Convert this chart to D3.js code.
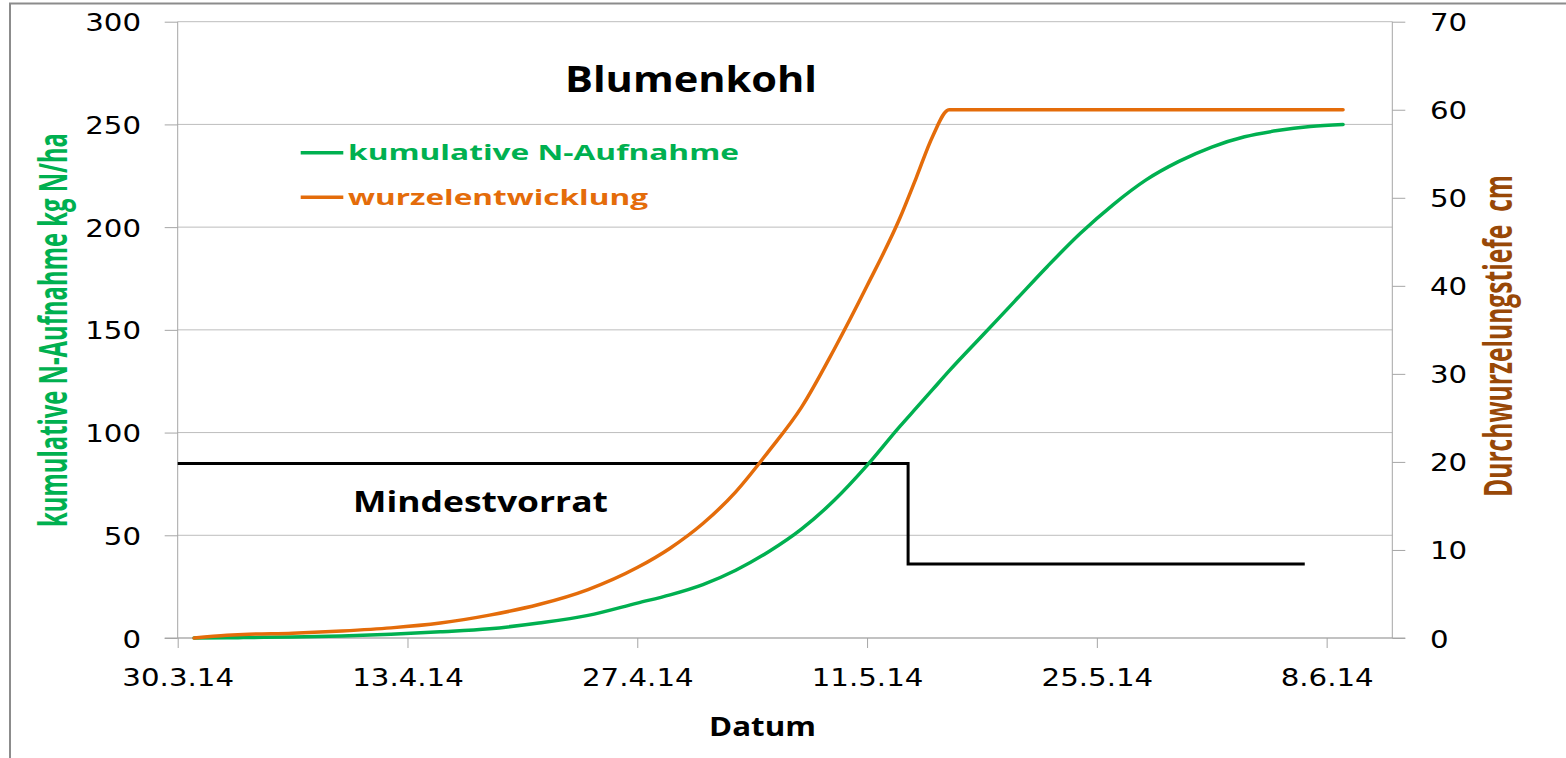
<!DOCTYPE html>
<html>
<head>
<meta charset="utf-8">
<script src="https://cdn.jsdelivr.net/npm/d3@7"></script>
<style>
  body { margin: 0; background: #fff; }
  svg { display: block; }
</style>
</head>
<body>
<svg id="chart" width="1566" height="758"></svg>
<script>
// dates on the x axis
const seriesDates = [
  '31.3.14', '2.4.14', '3.4.14', '6.4.14', '9.4.14', '12.4.14', '15.4.14', '18.4.14',
  '21.4.14', '24.4.14', '27.4.14', '29.4.14', '1.5.14', '3.5.14', '5.5.14', '7.5.14',
  '9.5.14', '11.5.14', '13.5.14', '14.5.14', '15.5.14', '16.5.14', '18.5.14', '20.5.14', '22.5.14',
  '24.5.14', '26.5.14', '28.5.14', '30.5.14', '1.6.14', '3.6.14', '5.6.14', '7.6.14', '9.6.14'
];
// kumulative N-Aufnahme, kg N/ha (left axis)
const nUptake = [
  0, 0.1, 0.2, 0.5, 1.0, 1.8, 3.0, 4.5,
  7.3, 11, 17, 21, 26, 33, 42, 53,
  67, 84, 103, 112, 121, 130, 147, 164, 181,
  197, 211, 223, 232, 239, 244, 247, 249, 250
];
// wurzelentwicklung, cm (right axis)
const rootDepth = [
  0, 0.3, 0.4, 0.55, 0.8, 1.15, 1.7, 2.6,
  3.8, 5.5, 8.0, 10.2, 13, 16.6, 21.2, 26.2,
  32.8, 40, 47.7, 52.3, 57, 60, 60, 60, 60,
  60, 60, 60, 60, 60, 60, 60, 60, 60
];
// Mindestvorrat step line (left axis)
const minDates = ['30.3.14 00:00', '13.5.14 12:00', '13.5.14 12:00', '6.6.14 16:00'];
const minValues = [85, 85, 36, 36];

const xDomain = ['30.3.14', '12.6.14'];
const xTickLabels = ['30.3.14', '13.4.14', '27.4.14', '11.5.14', '25.5.14', '8.6.14'];
const leftTicks = [0, 50, 100, 150, 200, 250, 300];
const rightTicks = [0, 10, 20, 30, 40, 50, 60, 70];

const parseDay = d3.timeParse('%d.%m.%y');
const parseTime = d3.timeParse('%d.%m.%y %H:%M');
const fmtDay = d3.timeFormat('%-d.%-m.%y');

const plotL = 177.7, plotT = 21.7, plotR = 1392.3, plotB = 638;
const GREEN = '#00b050', ORANGE = '#e46c0a', BROWN = '#984807';
const AXIS = '#a6a6a6', GRID = '#bdbdbd';

const svg = d3.select('#chart');

// stretch text horizontally like the source picture
function stretch(sel, k) {
  sel.each(function() {
    const w = this.getComputedTextLength();
    d3.select(this).attr('textLength', w * k).attr('lengthAdjust', 'spacingAndGlyphs');
  });
}

// outer frame
svg.append('rect')
  .attr('x', 10).attr('y', 3.5).attr('width', 1600).attr('height', 800)
  .attr('fill', 'none').attr('stroke', '#8c8c8c').attr('stroke-width', 2);

const x = d3.scaleTime().domain(xDomain.map(parseDay)).range([plotL, plotR]);
const yL = d3.scaleLinear().domain([0, 300]).range([plotB, plotT]);
const yR = d3.scaleLinear().domain([0, 70]).range([plotB, plotT]);

// gridlines
svg.append('g').selectAll('line').data(leftTicks).join('line')
  .attr('x1', plotL).attr('x2', plotR)
  .attr('y1', d => yL(d)).attr('y2', d => yL(d))
  .attr('stroke', GRID).attr('stroke-width', 1);

// axes
const gL = svg.append('g').attr('transform', `translate(${plotL},0)`)
  .call(d3.axisLeft(yL).tickValues(leftTicks).tickSize(13).tickSizeOuter(0).tickPadding(23.7));
const gR = svg.append('g').attr('transform', `translate(${plotR},0)`)
  .call(d3.axisRight(yR).tickValues(rightTicks).tickSize(13).tickSizeOuter(0).tickPadding(24.7));
const gB = svg.append('g').attr('transform', `translate(0,${plotB})`)
  .call(d3.axisBottom(x).tickValues(xTickLabels.map(parseDay)).tickFormat(fmtDay)
    .tickSize(10).tickSizeOuter(0));

[gL, gR, gB].forEach(g => {
  g.select('.domain').remove();
  g.selectAll('line').attr('stroke', AXIS);
  g.selectAll('text')
    .attr('font-family', '"DejaVu Sans", Verdana, sans-serif')
    .attr('font-size', 25).attr('fill', '#000');
});
gL.selectAll('text').attr('dy', '0.36em');
gR.selectAll('text').attr('dy', '0.36em');
gB.selectAll('text').attr('y', 48).attr('dy', 0);
[gL, gR, gB].forEach(g => stretch(g.selectAll('text'), 1.17));

// axis lines
svg.append('line').attr('x1', plotL).attr('x2', plotL).attr('y1', plotT).attr('y2', plotB)
  .attr('stroke', AXIS);
svg.append('line').attr('x1', plotR).attr('x2', plotR).attr('y1', plotT).attr('y2', plotB)
  .attr('stroke', AXIS);
svg.append('line').attr('x1', plotL - 13).attr('x2', plotR + 13).attr('y1', plotB).attr('y2', plotB)
  .attr('stroke', AXIS);

// series
const nData = seriesDates.map((d, i) => ({ date: parseDay(d), v: nUptake[i] }));
const rData = seriesDates.map((d, i) => ({ date: parseDay(d), v: rootDepth[i] }));
const mData = minDates.map((d, i) => ({ date: parseTime(d), v: minValues[i] }));

svg.append('path').datum(mData)
  .attr('fill', 'none').attr('stroke', '#000').attr('stroke-width', 3)
  .attr('d', d3.line().x(d => x(d.date)).y(d => yL(d.v)));

svg.append('path').datum(nData)
  .attr('fill', 'none').attr('stroke', GREEN).attr('stroke-width', 3.5)
  .attr('stroke-linecap', 'round')
  .attr('d', d3.line().curve(d3.curveMonotoneX).x(d => x(d.date)).y(d => yL(d.v)));

svg.append('path').datum(rData)
  .attr('fill', 'none').attr('stroke', ORANGE).attr('stroke-width', 3.5)
  .attr('stroke-linecap', 'round').attr('stroke-linejoin', 'round')
  .attr('d', d3.line().curve(d3.curveMonotoneX).x(d => x(d.date)).y(d => yR(d.v)));

// texts
const BOLD = '"Open Sans", "Noto Sans", sans-serif';
function label(txt, px, py, size, len, color) {
  return svg.append('text').text(txt)
    .attr('x', px).attr('y', py)
    .attr('font-family', BOLD).attr('font-weight', 700)
    .attr('font-size', size).attr('fill', color || '#000')
    .attr('textLength', len).attr('lengthAdjust', 'spacingAndGlyphs');
}
label('Blumenkohl', 565, 91.7, 36, 252);
label('Mindestvorrat', 353, 511.7, 28, 255);
label('Datum', 709, 735.7, 27, 107);

// legend
const legend = [
  { name: 'kumulative N-Aufnahme', color: GREEN, y: 152.7, len: 391 },
  { name: 'wurzelentwicklung', color: ORANGE, y: 197.3, len: 300 }
];
legend.forEach(l => {
  svg.append('line').attr('x1', 300.7).attr('x2', 343.3).attr('y1', l.y).attr('y2', l.y)
    .attr('stroke', l.color).attr('stroke-width', 3.5);
  label(l.name, 348, l.y + 7.5, 21, l.len, l.color);
});

// rotated axis titles
function vtitle(txt, px, py, len, color) {
  svg.append('text').text(txt)
    .attr('transform', `translate(${px},${py}) scale(1.75,1) rotate(-90)`)
    .attr('text-anchor', 'middle')
    .style('white-space', 'pre')
    .attr('font-family', BOLD).attr('font-weight', 700)
    .attr('font-size', 22).attr('fill', color)
    .attr('textLength', len).attr('lengthAdjust', 'spacingAndGlyphs');
}
vtitle('kumulative N-Aufnahme kg N/ha', 67, 330, 394, GREEN);
vtitle('Durchwurzelungstiefe  cm', 1512, 336, 322, BROWN);
</script>
</body>
</html>
